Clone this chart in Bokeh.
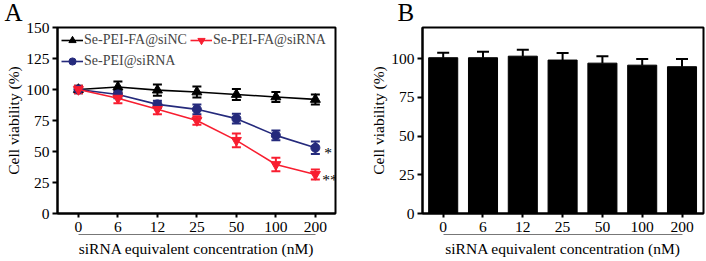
from bokeh.plotting import figure
from bokeh.models import (Range1d, LinearAxis, FixedTicker, Whisker, ColumnDataSource,
                          TeeHead, Legend, LegendItem, Label, Title)
from bokeh.layouts import row
from bokeh.embed import file_html
from bokeh.resources import INLINE
from bokeh.core.properties import value

# ---------------- data ----------------
concentrations = ["0", "6", "12", "25", "50", "100", "200"]

siNC_mean = [100, 102, 99.5, 98, 96, 94, 92]
siNC_err = [3, 4.5, 4.5, 4.5, 4.5, 4, 4]

fa_sirna_mean = [100, 93, 84, 75, 59, 39.5, 31.5]
fa_sirna_err = [3, 4, 4, 3.5, 5.5, 5.5, 4]

pei_sirna_mean = [100, 96, 88, 84, 76.5, 63, 53]
pei_sirna_err = [2, 3, 3, 4, 4, 4, 5]

b_mean = [100.5, 100.5, 101.5, 99, 97, 95.7, 94.7]
b_err = [3.2, 3.8, 4.1, 4.6, 4.5, 3.9, 5.0]

y_ticks_a = [0, 25, 50, 75, 100, 125, 150]
y_ticks_b = [0, 25, 50, 75, 100]

x_title = "siRNA equivalent concentration (nM)"
y_title = "Cell viability (%)"

FONT = "Liberation Serif"
FS = "15.5px"
RED = "#f81e30"
NAVY = "#252a7c"

idx = list(range(len(concentrations)))
labels = {i: c for i, c in zip(idx, concentrations)}


def style(p, yticks, ystandoff):
    p.grid.visible = False
    p.outline_line_color = "black"
    p.outline_line_width = 2
    p.outline_line_alpha = 1
    for ax in (p.xaxis[0], p.yaxis[0]):
        ax.axis_line_width = 2
        ax.axis_line_color = "black"
        ax.major_tick_line_width = 2
        ax.major_tick_line_color = "black"
        ax.major_tick_in = 0
        ax.minor_tick_line_color = None
        ax.major_label_text_font = FONT
        ax.major_label_text_font_size = FS
        ax.major_label_text_color = "black"
    p.xaxis[0].ticker = FixedTicker(ticks=idx)
    p.xaxis[0].major_label_overrides = labels
    p.xaxis[0].major_tick_out = 4
    p.xaxis[0].major_label_standoff = 4
    p.yaxis[0].ticker = FixedTicker(ticks=yticks)
    p.yaxis[0].major_tick_out = 5
    p.yaxis[0].major_label_standoff = 3
    # thin under-line spanning the categories
    ax2 = LinearAxis(bounds=(idx[0], idx[-1]), ticker=FixedTicker(ticks=[]),
                     major_label_text_font_size="0px",
                     major_label_standoff=0, major_tick_out=0, major_tick_in=0,
                     major_tick_line_color=None, minor_tick_line_color=None,
                     axis_line_color="#777777", axis_line_width=1)
    p.add_layout(ax2, "below")
    p.add_layout(Title(text=x_title, align="center", text_font=FONT, text_font_size=FS,
                       text_font_style="normal", text_color="black", standoff=6), "below")
    p.add_layout(Title(text=y_title, align="center", text_font=FONT, text_font_size=FS,
                       text_font_style="normal", text_color="black", standoff=ystandoff), "left")


# ---------------- panel A ----------------
pa = figure(width=352, height=261, x_range=Range1d(-0.53, 6.51), y_range=Range1d(0, 150),
            output_backend="svg", toolbar_location=None,
            min_border_left=55, min_border_right=17, min_border_top=25, min_border_bottom=46)
style(pa, y_ticks_a, 4)

series = [
    ("Se-PEI-FA@siNC", siNC_mean, siNC_err, "black", "triangle", 10),
    ("Se-PEI@siRNA", pei_sirna_mean, pei_sirna_err, NAVY, "circle", 9),
    ("Se-PEI-FA@siRNA", fa_sirna_mean, fa_sirna_err, RED, "inverted_triangle", 10),
]
items = {}
for name, mean, err, color, marker, size in series:
    src = ColumnDataSource(dict(x=idx, y=mean,
                                upper=[m + e for m, e in zip(mean, err)],
                                lower=[m - e for m, e in zip(mean, err)]))
    ln = pa.line("x", "y", source=src, line_color=color, line_width=1.6)
    w = Whisker(base="x", upper="upper", lower="lower", source=src,
                line_color=color, line_width=2,
                upper_head=TeeHead(size=9, line_color=color, line_width=2),
                lower_head=TeeHead(size=9, line_color=color, line_width=2))
    pa.add_layout(w)
    sc = pa.scatter("x", "y", source=src, marker=marker, size=size,
                    fill_color=color, line_color=color)
    items[name] = LegendItem(label=name, renderers=[ln, sc])

legend = Legend(items=[items["Se-PEI-FA@siNC"], items["Se-PEI-FA@siRNA"], items["Se-PEI@siRNA"]],
                location="top_left", orientation="horizontal", ncols=2,
                border_line_color=None, background_fill_alpha=0,
                label_text_font=FONT, label_text_font_size="14px",
                glyph_width=22, glyph_height=18, label_height=18, label_standoff=1,
                spacing=3, padding=0, margin=4)
pa.add_layout(legend)

pa.text(x=[idx[-1]], y=[pei_sirna_mean[-1]], text=["*"], x_offset=9, y_offset=5,
        text_baseline="middle", text_align="left",
        text_font=value(FONT), text_font_size=FS, text_color="black")
pa.text(x=[idx[-1]], y=[fa_sirna_mean[-1]], text=["**"], x_offset=7, y_offset=5,
        text_baseline="middle", text_align="left",
        text_font=value(FONT), text_font_size=FS, text_color="black")

pa.add_layout(Label(x=-53, y=15.5, x_units="screen", y_units="screen", text="A",
                    text_font=FONT, text_font_size="25px", text_color="black",
                    text_baseline="alphabetic"), "above")

# ---------------- panel B ----------------
pb = figure(width=354, height=261, x_range=Range1d(-0.52, 6.54), y_range=Range1d(0, 120),
            output_backend="svg", toolbar_location=None,
            min_border_left=70, min_border_right=3, min_border_top=25, min_border_bottom=48)
style(pb, y_ticks_b, 4)

srcb = ColumnDataSource(dict(x=idx, top=b_mean,
                             upper=[m + e for m, e in zip(b_mean, b_err)]))
pb.vbar(x="x", top="top", bottom=0, width=0.73, source=srcb,
        fill_color="black", line_color="black")
pb.add_layout(Whisker(base="x", upper="upper", lower="top", source=srcb,
                      line_color="black", line_width=2,
                      upper_head=TeeHead(size=12, line_color="black", line_width=2),
                      lower_head=None))

pb.add_layout(Label(x=-25, y=15.5, x_units="screen", y_units="screen", text="B",
                    text_font=FONT, text_font_size="25px", text_color="black",
                    text_baseline="alphabetic"), "above")

layout = row(pa, pb)
open("out.html", "w").write(file_html(layout, INLINE))
